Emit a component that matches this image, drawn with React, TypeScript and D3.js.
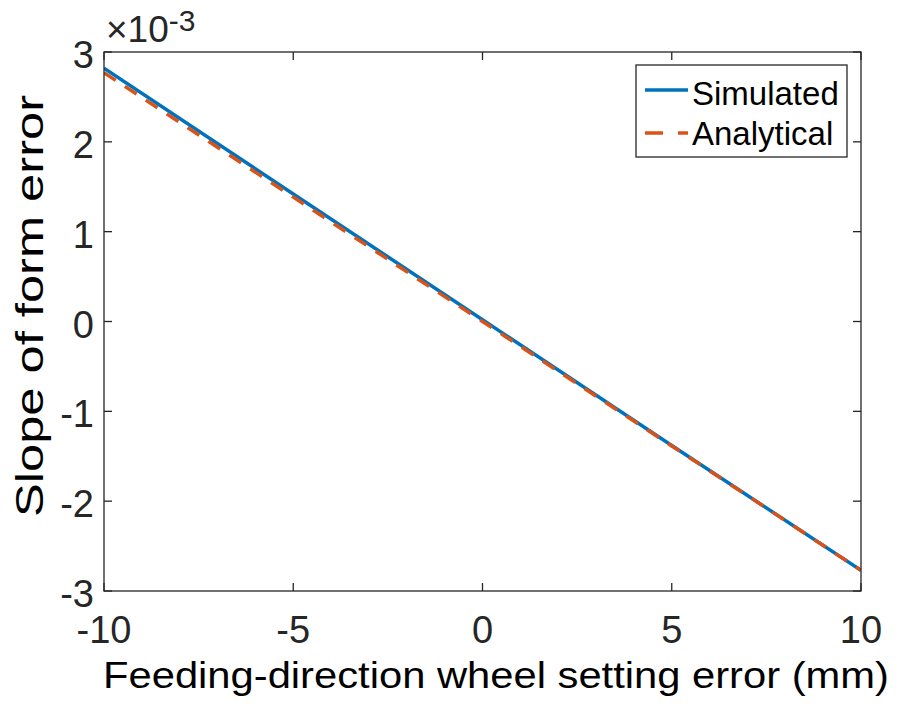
import React from "react";
import * as d3 from "d3";

const xValues = [-10, -5, 0, 5, 10];
const simulated = [2.82, 1.42, 0.02, -1.38, -2.77];
const analytical = [2.77, 1.385, 0.0, -1.385, -2.77];
const xTicks = [-10, -5, 0, 5, 10];
const yTicks = [-3, -2, -1, 0, 1, 2, 3];
const seriesNames = ["Simulated", "Analytical"];
const seriesColors = ["#0072BD", "#D95319"];

const W = 899, H = 706;
const L = 104, R = 861, T = 52, B = 591;
const FONT = "Liberation Sans, Arial, sans-serif";

export default function App() {
  const x = d3.scaleLinear().domain([-10, 10]).range([L, R]);
  const y = d3.scaleLinear().domain([-3, 3]).range([B, T]);
  const line = d3.line<number>().x((_, i) => x(xValues[i])).y((d) => y(d));
  const tl = 8;
  return (
    <svg width={W} height={H} style={{ position: "absolute", left: 0, top: 0, background: "#fff" }}>
      <rect x={0} y={0} width={W} height={H} fill="#fff" />
      <defs>
        <clipPath id="clip"><rect x={L} y={T} width={R - L} height={B - T} /></clipPath>
      </defs>
      <g clipPath="url(#clip)">
        <path d={line(simulated) || ""} fill="none" stroke={seriesColors[0]} strokeWidth={3.5} />
        <path d={line(analytical) || ""} fill="none" stroke={seriesColors[1]} strokeWidth={3.5} strokeDasharray="14,11" />
      </g>
      <rect x={L} y={T} width={R - L} height={B - T} fill="none" stroke="#262626" strokeWidth={1.3} />
      {xTicks.map((t) => (
        <g key={"x" + t}>
          <line x1={x(t)} x2={x(t)} y1={B} y2={B - tl} stroke="#262626" strokeWidth={1.3} />
          <line x1={x(t)} x2={x(t)} y1={T} y2={T + tl} stroke="#262626" strokeWidth={1.3} />
          <text x={x(t)} y={643} textAnchor="middle" fontFamily={FONT} fontSize={38} fill="#262626">{t}</text>
        </g>
      ))}
      {yTicks.map((t) => (
        <g key={"y" + t}>
          <line x1={L} x2={L + tl} y1={y(t)} y2={y(t)} stroke="#262626" strokeWidth={1.3} />
          <line x1={R} x2={R - tl} y1={y(t)} y2={y(t)} stroke="#262626" strokeWidth={1.3} />
          <text x={94} y={y(t) + 16} textAnchor="end" fontFamily={FONT} fontSize={38} fill="#262626">{t}</text>
        </g>
      ))}
      <text x={106} y={42} fontFamily={FONT} fontSize={37} fill="#262626">
        ×10<tspan dy={-11} fontSize={30}>-3</tspan>
      </text>
      <text x={103} y={688} fontFamily={FONT} fontSize={36} fill="#000" textLength={786} lengthAdjust="spacingAndGlyphs">
        Feeding-direction wheel setting error (mm)
      </text>
      <text transform={`translate(43, 306) rotate(-90)`} x={-211} y={0} fontFamily={FONT} fontSize={39} fill="#000" textLength={422} lengthAdjust="spacingAndGlyphs">
        Slope of form error
      </text>
      <g>
        <rect x={636} y={65} width={211} height={92} fill="#fff" stroke="#262626" strokeWidth={1.3} />
        {seriesNames.map((n, i) => (
          <g key={n}>
            <line x1={645} x2={688} y1={90 + i * 43} y2={90 + i * 43} stroke={seriesColors[i]} strokeWidth={3.5} strokeDasharray={i === 1 ? "18,15" : undefined} />
            <text x={692} y={105 + i * 40} fontFamily={FONT} fontSize={33} fill="#000">{n}</text>
          </g>
        ))}
      </g>
    </svg>
  );
}
